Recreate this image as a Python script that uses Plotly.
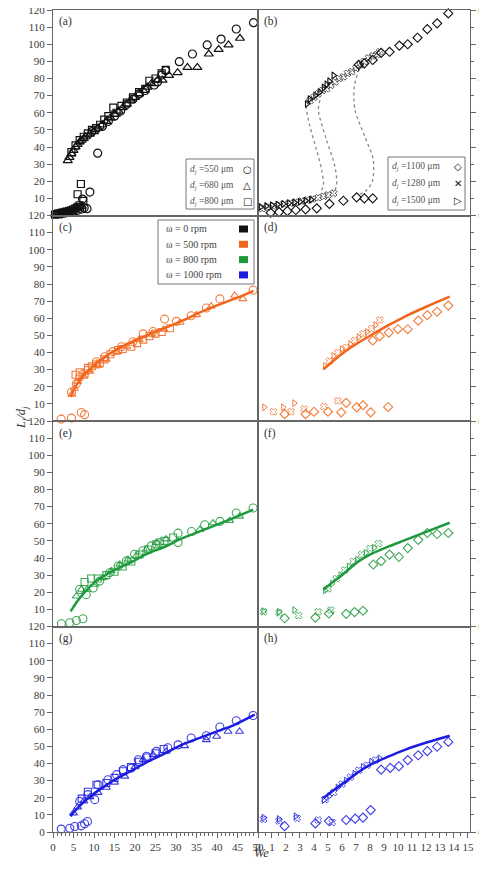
import plotly.graph_objects as go
from plotly.subplots import make_subplots

# ---------------- DATA ----------------
# Panel (a): omega = 0 rpm, small nozzles (left, We 0-50)
a_cir_x = [2.0, 3.0, 4.0, 5.0, 6.0, 7.0, 7.6, 8.3, 7.2, 9.0, 9.5, 10.9, 12.0, 13.5, 15.0, 16.5, 18.0, 19.5, 21.0, 22.5, 24.7, 25.5, 26.5, 27.5, 30.8, 34.0, 37.6, 41.0, 44.7, 48.9]
a_cir_y = [1.0, 1.5, 2.0, 2.5, 3.0, 3.8, 4.5, 4.0, 9.6, 13.7, 49.0, 36.4, 52.0, 55.0, 58.0, 61.0, 65.0, 68.0, 71.0, 73.0, 76.2, 78.0, 82.0, 84.6, 89.8, 94.3, 99.6, 103.0, 108.9, 112.6]
a_tri_x = [0.5, 1.0, 1.5, 2.0, 2.5, 3.0, 3.5, 4.0, 4.5, 5.0, 5.5, 6.0, 6.5, 7.0,
           3.6, 4.0, 4.5, 5.0, 5.5, 6.0, 6.5, 7.0, 7.5, 8.0, 9.0, 10.0, 11.0, 12.0, 13.0, 14.0, 15.0, 16.0, 17.0, 18.0, 19.0, 20.0, 21.0, 22.0, 23.0, 24.0, 25.5, 26.7, 28.3, 30.4, 32.8, 35.2, 38.0, 40.4, 42.8, 45.6]
a_tri_y = [1.0, 1.2, 1.5, 1.8, 2.0, 2.3, 2.5, 3.0, 3.3, 3.6, 4.0, 4.5, 5.0, 5.5,
           32.0, 34.0, 36.0, 38.0, 40.0, 41.5, 43.0, 44.0, 45.0, 46.0, 47.5, 49.0, 51.0, 53.0, 55.0, 57.0, 59.0, 61.0, 63.0, 65.0, 67.0, 69.0, 71.0, 73.0, 75.0, 77.0, 79.0, 79.0, 81.8, 83.4, 86.5, 86.5, 94.3, 97.0, 99.6, 103.5]
a_sq_x = [0.5, 1.0, 1.5, 2.0, 2.5, 3.0, 3.5, 4.0, 4.5, 5.0, 5.5, 6.0, 6.5, 7.4, 6.0, 6.8,
          4.5, 5.5, 6.5, 7.5, 8.5, 9.5, 10.5, 11.5, 12.5, 13.5, 14.7, 15.5, 16.7, 18.0, 19.5, 21.0, 22.5, 23.5, 25.0, 26.5, 27.5]
a_sq_y = [0.5, 0.8, 1.0, 1.2, 1.5, 1.8, 2.2, 2.6, 3.0, 3.5, 4.2, 5.0, 6.0, 8.5, 12.4, 18.4,
          37.0, 41.0, 44.0, 46.0, 48.0, 50.0, 51.0, 53.0, 56.0, 58.0, 63.0, 60.0, 64.0, 66.0, 69.0, 72.0, 74.0, 78.7, 80.0, 83.0, 85.0]

# Panel (b): omega = 0 rpm, large nozzles (right, We 0-15)
b_dia_x = [0.9, 1.5, 2.1, 2.7, 3.4, 4.2, 5.1, 6.1, 7.05, 7.6, 8.2, 7.2, 7.6, 8.2, 8.8, 9.4, 10.1, 10.7, 11.4, 12.1, 12.8, 13.6]
b_dia_y = [0.8, 1.0, 1.3, 1.6, 1.8, 2.1, 3.4, 4.3, 5.3, 5.0, 5.0, 44.0, 44.4, 45.4, 47.5, 47.8, 49.6, 50.0, 51.9, 54.4, 56.1, 59.0]
b_x_x = [0.3, 0.7, 1.1, 1.5, 1.9, 2.3, 2.7, 3.1, 3.5, 3.9, 4.3, 4.7, 5.0, 5.4,
         3.7, 4.0, 4.3, 4.6, 4.9, 5.2, 5.5, 5.8, 6.1, 6.4, 6.7, 7.0, 7.3, 7.6, 7.9, 8.2, 8.5, 8.7]
b_x_y = [2.0, 2.4, 2.7, 3.0, 3.3, 3.6, 3.9, 4.2, 4.5, 4.8, 5.2, 5.6, 6.0, 6.5,
         33.5, 34.5, 35.5, 36.5, 37.0, 38.0, 39.0, 40.0, 40.5, 41.5, 42.0, 43.0, 44.0, 45.0, 46.0, 46.6, 47.0, 47.8]
b_tri_x = [0.2, 0.6, 1.0, 1.4, 1.8, 2.2, 2.6, 3.0, 3.4, 3.8, 3.5, 3.7, 4.1, 4.4, 4.7, 4.9, 5.1, 5.4]
b_tri_y = [2.5, 2.8, 3.0, 3.2, 3.4, 3.6, 3.8, 4.0, 4.3, 4.6, 32.6, 34.0, 35.1, 36.0, 37.4, 38.3, 39.2, 40.9]
# dotted transition guides in (b)
b_c1_x = [3.4, 3.71, 4.19, 4.55, 4.67, 4.43]
b_c1_y = [32.0, 26.0, 19.1, 13.3, 8.9, 6.5]
b_c2_x = [4.43, 4.31, 4.9, 5.5, 5.62, 5.38]
b_c2_y = [33.7, 30.8, 22.0, 14.3, 8.9, 6.5]
b_c3_x = [7.36, 6.88, 6.93, 7.64, 8.24, 8.17, 7.76, 7.17]
b_c3_y = [44.4, 37.6, 30.8, 23.0, 16.2, 9.9, 7.4, 6.0]

# Panel (c): 500 rpm, left
c_cir_x = [2.0, 4.5, 6.9, 7.7, 4.5, 5.7, 6.5, 8.5, 10.6, 12.6, 14.6, 16.7, 19.5, 22.0, 24.4, 27.2, 30.1, 33.7, 37.4, 40.7, 48.8]
c_cir_y = [1.1, 1.7, 5.0, 3.7, 16.9, 21.8, 25.7, 29.7, 34.6, 37.5, 40.5, 43.4, 46.3, 50.9, 52.3, 59.5, 58.2, 61.5, 66.0, 71.3, 76.4]
c_tri_x = [4.6, 5.2, 6.0, 7.5, 9.0, 11.0, 13.0, 15.5, 18.0, 21.0, 24.0, 27.0, 31.0, 35.0, 38.6, 44.3, 46.3]
c_tri_y = [15.5, 19.0, 23.0, 26.0, 29.0, 32.5, 36.0, 40.0, 43.5, 47.5, 50.5, 53.5, 57.5, 62.0, 67.0, 73.3, 71.3]
c_sq_x = [5.5, 6.5, 7.7, 8.5, 9.5, 10.5, 11.4, 12.5, 14.0, 15.9, 17.0, 19.1, 20.5, 22.0, 23.5, 25.0, 26.5, 28.5]
c_sq_y = [27.0, 28.5, 27.7, 31.0, 32.0, 33.0, 33.6, 36.0, 39.0, 41.5, 42.0, 43.4, 45.5, 47.5, 49.5, 51.0, 52.0, 54.2]
c_line_x = [4.3, 5.0, 6.0, 7.0, 8.5, 10.0, 12.5, 15.0, 20.0, 25.0, 28.0, 32.0, 35.0, 40.0, 45.0, 48.9]
c_line_y = [14.0, 18.0, 22.0, 25.5, 29.0, 32.5, 37.0, 41.0, 47.0, 52.0, 55.0, 59.0, 62.5, 67.5, 72.0, 76.0]

# Panel (d): 500 rpm, right
d_dia_x = [1.9, 3.4, 4.0, 5.0, 5.95, 6.3, 7.05, 7.5, 8.05, 9.3, 8.2, 8.7, 9.35, 10.0, 10.7, 11.45, 12.1, 12.8, 13.6]
d_dia_y = [2.0, 2.0, 2.7, 2.7, 2.5, 5.3, 4.0, 4.6, 2.5, 4.1, 23.5, 24.8, 25.8, 26.8, 26.8, 29.3, 30.9, 31.9, 33.7]
d_x_x = [1.1, 2.35, 3.3, 4.7, 5.7, 5.1, 5.7, 6.3, 6.9, 7.5, 8.1, 8.7]
d_x_y = [2.7, 2.7, 3.5, 4.2, 5.9, 17.5, 20.0, 21.5, 23.5, 25.5, 27.0, 29.5]
d_tri_x = [0.45, 1.8, 2.6, 4.8, 5.4, 6.0, 6.6, 7.2, 7.8, 8.4]
d_tri_y = [4.0, 4.0, 5.2, 16.0, 19.0, 21.0, 22.5, 24.5, 26.0, 28.0]
d_line_x = [4.67, 5.4, 6.2, 7.1, 8.1, 9.3, 10.5, 12.1, 13.7]
d_line_y = [15.1, 17.6, 20.2, 22.7, 25.1, 27.9, 30.5, 33.5, 36.3]

# Panel (e): 800 rpm, left
e_cir_x = [2.05, 4.1, 5.7, 7.3, 6.5, 8.1, 9.8, 11.4, 13.8, 15.9, 17.9, 19.9, 21.9, 24.0, 26.0, 30.5, 30.5, 33.8, 37.0, 40.7, 44.7, 48.8]
e_cir_y = [1.6, 2.2, 3.5, 4.5, 21.6, 18.6, 22.5, 26.5, 31.4, 35.3, 38.3, 42.2, 44.2, 47.1, 49.0, 49.1, 54.5, 55.5, 59.4, 61.4, 66.3, 69.2]
e_tri_x = [5.7, 6.9, 8.3, 10.2, 12.2, 14.2, 16.3, 18.3, 20.3, 22.8, 25.2, 27.6, 35.8, 39.0, 43.1, 45.5]
e_tri_y = [17.7, 21.6, 21.6, 24.5, 28.4, 32.4, 36.3, 39.2, 41.2, 45.1, 49.0, 51.0, 56.5, 60.4, 61.8, 64.3]
e_sq_x = [7.7, 9.3, 10.9, 13.0, 15.0, 17.0, 19.1, 21.1, 23.2, 25.2, 27.2, 29.3]
e_sq_y = [26.0, 28.0, 28.0, 30.0, 32.0, 35.0, 38.0, 42.0, 45.0, 48.0, 50.0, 52.0]
e_line_x = [4.3, 5.0, 5.7, 7.0, 8.1, 10.0, 11.4, 15.0, 19.5, 23.0, 27.7, 31.0, 35.8, 40.0, 44.0, 48.8]
e_line_y = [8.8, 11.5, 14.0, 18.0, 21.0, 25.5, 28.0, 33.0, 38.0, 42.5, 47.0, 51.0, 55.5, 59.5, 63.3, 68.2]

# Panel (f): 800 rpm, right
f_dia_x = [1.9, 4.1, 5.07, 6.3, 6.9, 7.5, 8.24, 8.8, 9.4, 10.07, 10.7, 11.45, 12.1, 12.8, 13.6]
f_dia_y = [2.4, 2.6, 3.8, 3.7, 4.2, 4.6, 18.1, 19.1, 21.0, 20.3, 22.9, 25.3, 27.3, 27.0, 27.3]
f_x_x = [0.4, 1.5, 2.9, 4.3, 5.2, 5.0, 5.6, 6.2, 6.8, 7.4, 8.0, 8.6]
f_x_y = [4.3, 4.0, 3.2, 4.3, 4.8, 11.0, 14.0, 16.5, 19.0, 21.0, 22.8, 24.2]
f_tri_x = [0.4, 1.5, 2.6, 4.8, 5.3, 5.9, 6.5, 7.1, 7.7, 8.3]
f_tri_y = [4.5, 4.3, 4.8, 10.5, 12.5, 15.0, 17.5, 19.5, 21.5, 23.0]
f_line_x = [4.67, 5.2, 6.2, 7.1, 8.1, 9.3, 10.5, 12.1, 13.7]
f_line_y = [10.8, 12.5, 15.7, 18.8, 21.2, 23.3, 25.2, 27.8, 30.3]

# Panel (g): 1000 rpm, left
g_cir_x = [2.0, 4.1, 5.3, 6.9, 7.7, 8.4, 6.5, 8.5, 10.2, 11.0, 13.4, 15.5, 17.1, 19.1, 20.8, 22.8, 25.2, 28.0, 30.5, 33.7, 37.4, 40.7, 44.7, 48.8]
g_cir_y = [1.7, 2.2, 3.2, 3.6, 4.8, 6.1, 17.9, 21.8, 18.9, 27.6, 30.5, 33.5, 36.4, 37.3, 42.2, 44.2, 47.1, 49.2, 50.9, 54.9, 56.2, 61.3, 65.0, 68.0]
g_tri_x = [5.0, 6.0, 7.5, 9.0, 11.0, 13.0, 15.0, 17.5, 20.0, 22.0, 24.4, 27.6, 32.1, 37.4, 39.9, 42.7, 45.5]
g_tri_y = [11.0, 14.5, 18.0, 20.5, 23.0, 26.0, 29.0, 32.5, 38.0, 42.2, 45.1, 47.0, 50.3, 53.8, 55.8, 58.7, 58.7]
g_sq_x = [7.0, 8.5, 10.6, 13.0, 15.0, 17.1, 19.0, 21.0, 23.0, 25.0, 27.0]
g_sq_y = [19.5, 23.5, 27.6, 28.6, 31.6, 35.5, 38.0, 41.0, 43.5, 46.0, 48.5]
g_line_x = [4.3, 5.0, 6.0, 7.0, 8.5, 10.0, 11.4, 15.0, 19.5, 23.5, 27.7, 31.5, 35.8, 40.0, 44.0, 49.2]
g_line_y = [9.1, 11.5, 14.0, 16.5, 19.5, 22.5, 24.7, 30.5, 36.3, 41.5, 46.4, 51.0, 55.0, 58.8, 62.3, 68.5]

# Panel (h): 1000 rpm, right
h_dia_x = [1.9, 4.1, 5.07, 6.3, 6.95, 7.5, 8.05, 8.8, 9.45, 10.07, 10.7, 11.45, 12.1, 12.8, 13.6]
h_dia_y = [1.7, 2.5, 3.2, 3.5, 3.9, 4.2, 6.4, 18.2, 18.7, 19.2, 21.0, 22.4, 23.6, 24.9, 26.3]
h_x_x = [0.4, 1.5, 2.8, 4.3, 5.3, 4.8, 5.4, 6.0, 6.6, 7.2, 7.8, 8.4]
h_x_y = [3.7, 3.2, 4.0, 3.5, 2.8, 9.5, 11.5, 14.0, 16.0, 18.0, 19.5, 21.0]
h_tri_x = [0.4, 1.5, 2.7, 4.7, 5.1, 5.7, 6.3, 6.9, 7.5, 8.1, 8.7]
h_tri_y = [4.2, 3.8, 4.6, 9.3, 10.5, 13.0, 15.0, 17.0, 19.0, 20.5, 21.5]
h_line_x = [4.67, 5.4, 6.2, 7.1, 8.1, 9.3, 10.5, 12.1, 13.7]
h_line_y = [9.9, 12.2, 14.5, 17.3, 19.8, 22.0, 24.0, 26.2, 28.1]

left_xticks = [0, 5, 10, 15, 20, 25, 30, 35, 40, 45, 50]
right_xticks = [0, 1, 2, 3, 4, 5, 6, 7, 8, 9, 10, 11, 12, 13, 14, 15]
left_yticks = [0, 10, 20, 30, 40, 50, 60, 70, 80, 90, 100, 110, 120]
right_yticks = [0, 10, 20, 30, 40, 50, 60]
panel_labels = ["(a)", "(b)", "(c)", "(d)", "(e)", "(f)", "(g)", "(h)"]
legend_ab_left = ["550", "680", "800"]
legend_ab_right = ["1100", "1280", "1500"]
omega_labels = ["ω = 0 rpm", "ω = 500 rpm", "ω = 800 rpm", "ω = 1000 rpm"]

# ---------------- STYLE ----------------
BLACK = '#111111'; ORANGE = '#F0661C'; GREEN = '#1E9A3C'; BLUE = '#1C1CE0'
omega_colors = [BLACK, ORANGE, GREEN, BLUE]
FONT = 'Liberation Serif'
LC = '#666666'
TXT = '#3a3a3a'
OFF = 8                      # page body margin offset
W, H = 487 - OFF, 869 - OFF
L, T = 53 - OFF, 10 - OFF    # plot area starts at page px (53, 10)
PW, PH = 417, 822            # plot area size in px
R, B = W - L - PW, H - T - PH

def fx(p):                   # page pixel -> paper x
    return (p - OFF - L) / PW

def fy(p):                   # page pixel -> paper y
    return (T + PH - (p - OFF)) / PH

fig = make_subplots(rows=4, cols=2, horizontal_spacing=0, vertical_spacing=0,
                    column_widths=[205, 212])

def mk(x, y, sym, col, r, c, size=7, lw=1.2, op=1.0):
    fig.add_trace(go.Scatter(x=x, y=y, mode='markers',
                             marker=dict(symbol=sym, size=size, color=col, line=dict(width=lw, color=col)),
                             opacity=op, cliponaxis=False, showlegend=False, hoverinfo='skip'), row=r, col=c)

def ln(x, y, col, r, c, dash='solid', w=2.5):
    fig.add_trace(go.Scatter(x=x, y=y, mode='lines',
                             line=dict(color=col, width=w, dash=dash, shape='spline', smoothing=0.8),
                             cliponaxis=False, showlegend=False, hoverinfo='skip'), row=r, col=c)

# (a)
mk(a_cir_x, a_cir_y, 'circle-open', BLACK, 1, 1, size=8, lw=1.2)
mk(a_tri_x, a_tri_y, 'triangle-up-open', BLACK, 1, 1, size=8, lw=1.2)
mk(a_sq_x, a_sq_y, 'square-open', BLACK, 1, 1, size=7, lw=1.2)
# (b)
for cx, cy in [(b_c1_x, b_c1_y), (b_c2_x, b_c2_y), (b_c3_x, b_c3_y)]:
    ln(cx, cy, '#888888', 1, 2, dash='dot', w=1.3)
mk(b_dia_x, b_dia_y, 'diamond-open', BLACK, 1, 2, size=7, lw=1.1)
mk(b_x_x, b_x_y, 'x-open', BLACK, 1, 2, size=6, lw=0.9, op=0.8)
mk(b_tri_x, b_tri_y, 'triangle-right-open', BLACK, 1, 2, size=6, lw=1.1)

left_sets = [(c_cir_x, c_cir_y, c_tri_x, c_tri_y, c_sq_x, c_sq_y, c_line_x, c_line_y, ORANGE, 2),
             (e_cir_x, e_cir_y, e_tri_x, e_tri_y, e_sq_x, e_sq_y, e_line_x, e_line_y, GREEN, 3),
             (g_cir_x, g_cir_y, g_tri_x, g_tri_y, g_sq_x, g_sq_y, g_line_x, g_line_y, BLUE, 4)]
for cx, cy, tx, ty, sx, sy, lx, ly, col, r in left_sets:
    mk(cx, cy, 'circle-open', col, r, 1, size=8, lw=1.1, op=0.85)
    mk(tx, ty, 'triangle-up-open', col, r, 1, size=7, lw=1.1, op=0.85)
    mk(sx, sy, 'square-open', col, r, 1, size=7, lw=1.1, op=0.85)
    ln(lx, ly, col, r, 1)

right_sets = [(d_dia_x, d_dia_y, d_x_x, d_x_y, d_tri_x, d_tri_y, d_line_x, d_line_y, ORANGE, 2),
              (f_dia_x, f_dia_y, f_x_x, f_x_y, f_tri_x, f_tri_y, f_line_x, f_line_y, GREEN, 3),
              (h_dia_x, h_dia_y, h_x_x, h_x_y, h_tri_x, h_tri_y, h_line_x, h_line_y, BLUE, 4)]
for dx, dy, xx, xy, tx, ty, lx, ly, col, r in right_sets:
    mk(dx, dy, 'diamond-open', col, r, 2, size=7, lw=1.1, op=0.85)
    mk(xx, xy, 'x-open', col, r, 2, size=6, lw=0.9, op=0.85)
    mk(tx, ty, 'triangle-right-open', col, r, 2, size=6, lw=1.0, op=0.85)
    ln(lx, ly, col, r, 2)

tickfont = dict(family=FONT, size=11, color=TXT)
common = dict(showline=True, mirror=True, linecolor=LC, linewidth=1, showgrid=False, zeroline=False,
              automargin=False, ticklabeloverflow='allow', tickcolor=LC, tickfont=tickfont, ticklen=5)
for r in range(1, 5):
    bottom = (r == 4)
    fig.update_xaxes(row=r, col=1, range=[0, 50], ticks='outside' if bottom else '',
                     showticklabels=bottom, tickvals=left_xticks,
                     minor=dict(ticks='outside' if bottom else '', dtick=1, ticklen=3, tickcolor=LC), **common)
    fig.update_xaxes(row=r, col=2, range=[0, 15.15], ticks='outside' if bottom else '',
                     showticklabels=bottom, tickvals=right_xticks,
                     minor=dict(ticks='outside' if bottom else '', dtick=0.5, ticklen=3, tickcolor=LC), **common)
    fig.update_yaxes(row=r, col=1, range=[0, 120], ticks='outside',
                     tickvals=left_yticks if bottom else left_yticks[1:], **common)
    fig.update_yaxes(row=r, col=2, range=[0, 60], side='right', ticks='outside',
                     tickvals=right_yticks if bottom else right_yticks[1:],
                     minor=dict(ticks='outside', dtick=5, ticklen=3, tickcolor=LC), **common)

annotations = []
shapes = []
row_h = PH / 4
for i, lab in enumerate(panel_labels):
    r = i // 2
    top = 10 + r * row_h
    xpix = 57 if i % 2 == 0 else 262
    annotations.append(dict(x=fx(xpix), y=fy(top + 12), xref='paper', yref='paper', text=lab,
                            showarrow=False, xanchor='left', yanchor='middle',
                            font=dict(family=FONT, size=11.5, color='#333333')))

# legend (a)
shapes.append(dict(type='rect', xref='paper', yref='paper', x0=fx(186), x1=fx(254), y0=fy(209), y1=fy(159),
                   line=dict(color='#777777', width=1), fillcolor='white'))
for j, (d, sym) in enumerate(zip(legend_ab_left, ['○', '△', '□'])):
    yy = 169 + 16 * j
    annotations.append(dict(x=fx(188), y=fy(yy), xref='paper', yref='paper', showarrow=False,
                            text='<i>d<sub>j</sub></i> =' + d + ' μm', xanchor='left', yanchor='middle',
                            font=dict(family=FONT, size=9.5, color='#555555')))
    annotations.append(dict(x=fx(247), y=fy(yy), xref='paper', yref='paper', showarrow=False,
                            text='<b>' + sym + '</b>', xanchor='center', yanchor='middle',
                            font=dict(family='DejaVu Sans', size=10, color=BLACK)))
# legend (b)
shapes.append(dict(type='rect', xref='paper', yref='paper', x0=fx(388), x1=fx(465), y0=fy(210), y1=fy(157),
                   line=dict(color='#777777', width=1), fillcolor='white'))
for j, (d, sym) in enumerate(zip(legend_ab_right, ['◇', '✕', '▷'])):
    yy = 166 + 17 * j
    annotations.append(dict(x=fx(390), y=fy(yy), xref='paper', yref='paper', showarrow=False,
                            text='<i>d<sub>j</sub></i> =' + d + ' μm', xanchor='left', yanchor='middle',
                            font=dict(family=FONT, size=9.5, color='#555555')))
    annotations.append(dict(x=fx(458), y=fy(yy), xref='paper', yref='paper', showarrow=False,
                            text='<b>' + sym + '</b>', xanchor='center', yanchor='middle',
                            font=dict(family='DejaVu Sans', size=10, color=BLACK)))
# legend (c)
shapes.append(dict(type='rect', xref='paper', yref='paper', x0=fx(158), x1=fx(254), y0=fy(284), y1=fy(220),
                   line=dict(color='#777777', width=1), fillcolor='white'))
for j, (lab, col) in enumerate(zip(omega_labels, omega_colors)):
    yy = 229 + 15.3 * j
    annotations.append(dict(x=fx(164), y=fy(yy), xref='paper', yref='paper', showarrow=False, text=lab,
                            xanchor='left', yanchor='middle', font=dict(family=FONT, size=10, color='#444444')))
    shapes.append(dict(type='rect', xref='paper', yref='paper', x0=fx(239), x1=fx(248), y0=fy(yy + 3.5),
                       y1=fy(yy - 3.5), line=dict(width=0), fillcolor=col))

# axis titles
annotations.append(dict(x=fx(12), y=fy(418), xref='paper', yref='paper', showarrow=False,
                        text='<i>L<sub>f</sub>/d<sub>j</sub></i>', textangle=-90,
                        font=dict(family=FONT, size=12.5, color='#333333')))
annotations.append(dict(x=fx(261), y=fy(862), xref='paper', yref='paper', showarrow=False,
                        text='<i>We</i>', font=dict(family=FONT, size=12.5, color='#333333')))

fig.update_layout(width=W, height=H, margin=dict(l=L, r=R, t=T, b=B, autoexpand=False), paper_bgcolor='white',
                  plot_bgcolor='white', showlegend=False, annotations=annotations, shapes=shapes,
                  font=dict(family=FONT))
fig.write_html("out.html")
